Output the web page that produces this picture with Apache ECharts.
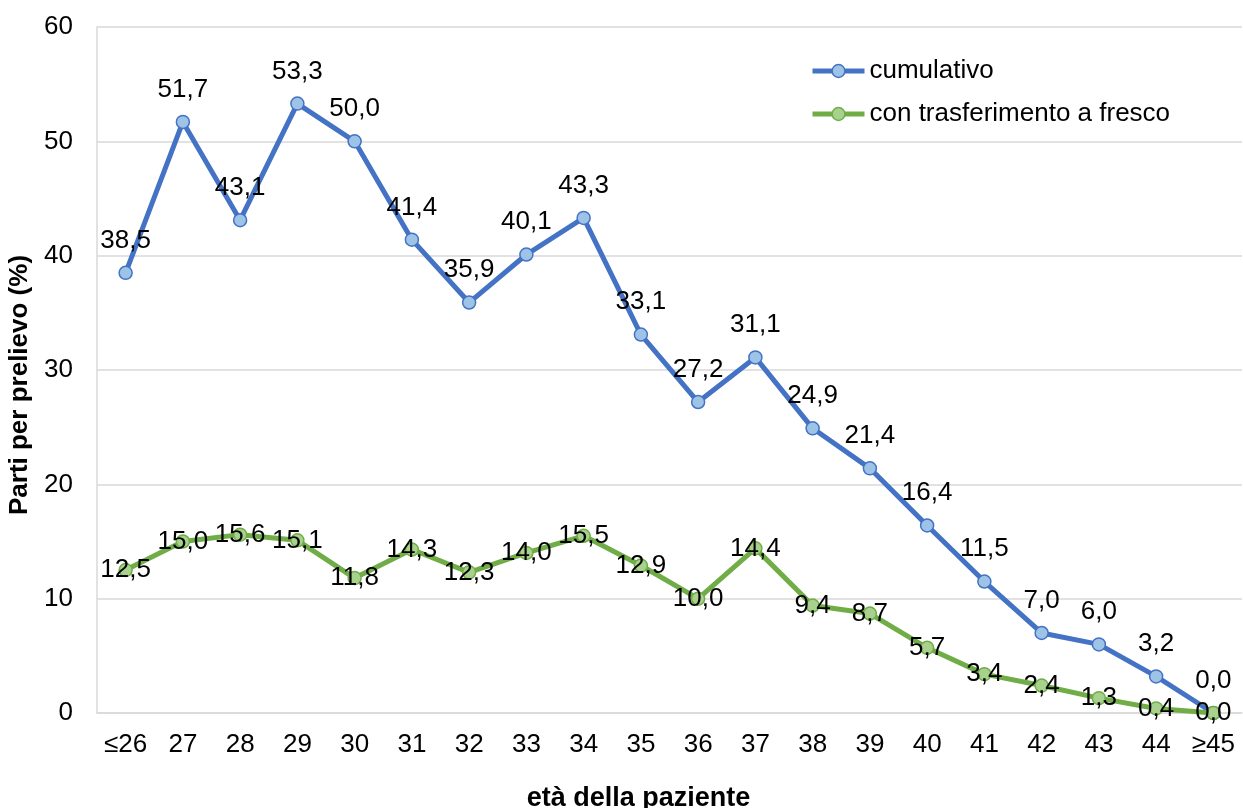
<!DOCTYPE html>
<html>
<head>
<meta charset="utf-8">
<script src="https://cdn.jsdelivr.net/npm/echarts@6/dist/echarts.min.js"></script>
<style>
html,body{margin:0;padding:0;background:#fff;}
#chart{width:1243px;height:808px;}
</style>
</head>
<body>
<div id="chart"></div>
<script>
const categories = ['≤26','27','28','29','30','31','32','33','34','35','36','37','38','39','40','41','42','43','44','≥45'];
const cumulativo = [38.5,51.7,43.1,53.3,50.0,41.4,35.9,40.1,43.3,33.1,27.2,31.1,24.9,21.4,16.4,11.5,7.0,6.0,3.2,0.0];
const fresco = [12.5,15.0,15.6,15.1,11.8,14.3,12.3,14.0,15.5,12.9,10.0,14.4,9.4,8.7,5.7,3.4,2.4,1.3,0.4,0.0];
const yTicks = [0,10,20,30,40,50,60];

const FONT = 'Liberation Sans';
const fmt = p => p.value.toFixed(1).replace('.', ',');

const chart = echarts.init(document.getElementById('chart'), null, {renderer:'canvas'});
chart.setOption({
  animation:false,
  backgroundColor:'#ffffff',
  textStyle:{fontFamily:FONT},
  grid:{left:97, right:1, top:27, bottom:95, outerBoundsMode:'none', containLabel:false},
  legend:{
    left:810, top:58, padding:0, orient:'vertical', itemWidth:52, itemHeight:16, itemGap:17,
    textStyle:{fontFamily:FONT, fontSize:26, color:'#000'},
    itemStyle:{borderWidth:1.5},
    data:[
      {name:'cumulativo', lineStyle:{width:5, color:'#4472C4'}},
      {name:'con trasferimento a fresco', lineStyle:{width:5, color:'#70AD47'}}
    ]
  },
  xAxis:{
    type:'category', data:categories, boundaryGap:true,
    axisLine:{show:true, lineStyle:{color:'#d9d9d9', width:1.5}},
    axisTick:{show:false},
    axisLabel:{fontFamily:FONT, fontSize:26, color:'#000', margin:19, interval:0},
    name:'età della paziente', nameLocation:'middle', nameGap:72,
    nameTextStyle:{fontFamily:FONT, fontSize:27, fontWeight:'bold', color:'#000', padding:[0,62,0,0]}
  },
  yAxis:{
    type:'value', min:yTicks[0], max:yTicks[yTicks.length-1], interval:10,
    axisLine:{show:true, lineStyle:{color:'#d9d9d9', width:1.5}},
    axisTick:{show:false},
    splitLine:{lineStyle:{color:'#d9d9d9', width:1.5}},
    axisLabel:{fontFamily:FONT, fontSize:26, color:'#000', margin:24},
    name:'Parti per prelievo (%)', nameLocation:'middle', nameGap:62,
    nameTextStyle:{fontFamily:FONT, fontSize:26, fontWeight:'bold', color:'#000', padding:[0,30,0,0]}
  },
  series:[
    {
      name:'cumulativo', type:'line', data:cumulativo,
      symbol:'circle', symbolSize:13, showAllSymbol:true,
      lineStyle:{color:'#4472C4', width:5},
      itemStyle:{color:'#9DC3E6', borderColor:'#4472C4', borderWidth:1.5},
      label:{show:true, position:'top', distance:12, formatter:fmt,
             fontFamily:FONT, fontSize:26, color:'#000'},
      z:2
    },
    {
      name:'con trasferimento a fresco', type:'line', data:fresco,
      symbol:'circle', symbolSize:13, showAllSymbol:true,
      lineStyle:{color:'#70AD47', width:5},
      itemStyle:{color:'#A9D18E', borderColor:'#70AD47', borderWidth:1.5},
      label:{show:true, position:'inside', formatter:fmt,
             fontFamily:FONT, fontSize:26, color:'#000'},
      z:3
    }
  ]
});
</script>
</body>
</html>
